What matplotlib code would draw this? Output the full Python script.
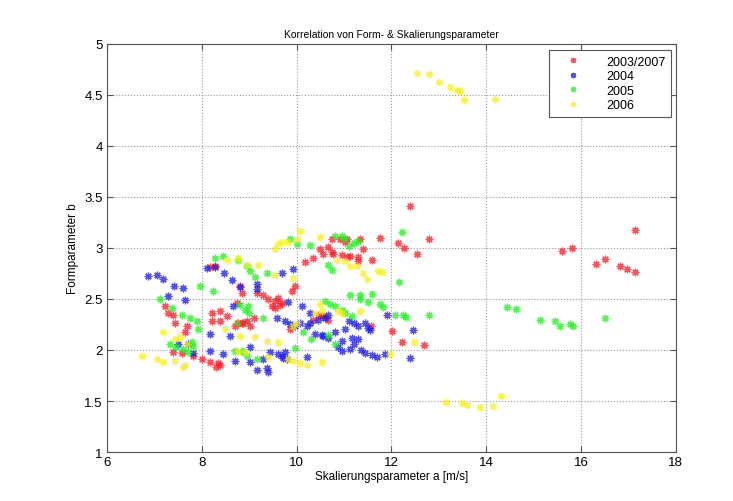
import matplotlib
matplotlib.use('Agg')
import matplotlib.pyplot as plt

# values
red_x = [7.22, 7.29, 7.39, 7.43, 7.69, 7.65, 7.39, 7.58, 7.81, 8.0, 8.17, 8.34, 8.38, 8.3,
         8.22, 8.38, 8.22, 8.38, 8.53, 8.85, 8.70, 8.76, 8.87, 8.95, 9.02, 8.81, 8.28, 8.17,
         9.4, 9.54, 9.48, 9.6, 9.7, 9.86, 9.97, 9.16, 8.85, 8.75, 9.3, 9.55, 9.65, 9.1, 9.9,
         10.54, 10.56, 10.45, 10.35, 10.66, 10.49, 10.66, 10.75, 10.56, 10.77, 10.96, 11.13,
         10.35, 10.18, 10.75, 10.92, 11.02, 11.06, 11.4, 11.06, 11.3, 11.3, 11.59, 11.34,
         11.76, 12.14, 12.27, 12.39, 12.8, 12.54, 11.57, 12.01, 12.22, 12.69,
         15.6, 15.81, 17.14, 16.32, 16.51, 16.82, 16.97, 17.14]
red_y = [2.43, 2.36, 2.34, 2.26, 2.24, 2.18, 1.98, 1.97, 1.94, 1.91, 1.88, 1.87, 1.85, 1.83,
         2.36, 2.38, 2.28, 2.28, 2.33, 2.26, 2.24, 2.26, 2.26, 2.28, 2.24, 2.63, 2.82, 2.81,
         2.50, 2.48, 2.43, 2.51, 2.46, 2.21, 2.63, 2.56, 2.56, 2.46, 2.54, 2.41, 2.44, 2.31, 2.58,
         2.33, 2.33, 2.34, 2.29, 2.29, 2.99, 3.01, 2.96, 2.94, 2.94, 2.93, 2.92,
         2.90, 2.86, 3.09, 3.09, 3.06, 3.09, 2.99, 2.91, 2.91, 2.87, 2.88, 3.09,
         3.10, 3.05, 3.00, 3.41, 3.09, 2.94, 2.24, 2.19, 2.08, 2.05,
         2.97, 3.00, 3.18, 2.84, 2.89, 2.82, 2.79, 2.76]

blue_x = [6.86, 7.05, 7.18, 7.41, 7.6, 7.29, 7.65, 8.11, 8.28, 8.47, 8.64, 8.66, 8.17, 8.59,
          7.5, 7.71, 7.81, 8.17, 8.45, 8.7, 9.69, 9.92, 9.16, 8.81, 9.16, 9.82, 10.11, 10.28,
          9.59, 9.76, 9.86, 9.97, 10.07, 10.22, 10.28, 10.45, 10.6, 10.66, 10.39, 10.54, 10.56,
          10.66, 10.81, 11.02, 10.96, 11.17, 11.13, 10.87, 10.96, 9.02, 9.44, 9.61, 9.76, 9.69,
          9.71, 9.8, 9.02, 9.29, 10.22, 9.16, 9.38, 9.4, 11.2, 11.3, 11.45, 11.5, 11.55, 11.1,
          11.35, 11.45, 11.6, 11.7, 11.86, 11.91, 12.46, 12.39, 11.3, 11.2]
blue_y = [2.73, 2.74, 2.70, 2.63, 2.61, 2.53, 2.49, 2.80, 2.81, 2.75, 2.69, 2.43, 2.16, 2.14,
          2.06, 2.06, 1.97, 1.99, 1.96, 1.89, 2.75, 2.79, 2.65, 2.62, 2.60, 2.47, 2.43, 2.36,
          2.31, 2.28, 2.25, 2.24, 2.26, 2.24, 2.26, 2.29, 2.31, 2.34, 2.16, 2.15, 2.14,
          2.12, 2.18, 2.21, 2.09, 2.12, 2.01, 2.03, 1.99, 2.03, 1.98, 1.96, 1.98, 1.94,
          1.92, 1.91, 1.88, 1.91, 1.93, 1.80, 1.82, 1.78, 2.26, 2.24, 2.26, 2.22, 2.20, 2.28,
          2.00, 1.97, 1.95, 1.93, 1.96, 2.34, 2.20, 1.92, 2.11, 2.06]

green_x = [7.12, 7.37, 7.58, 7.75, 7.9, 7.92, 7.96, 8.24, 8.28, 8.45, 8.81, 8.74, 7.33, 7.79,
           7.81, 7.71, 7.45, 7.6, 8.87, 8.76, 8.95, 9.02, 9.12, 9.38, 8.97, 8.91, 9.0, 9.29,
           8.7, 8.85, 8.95, 9.16, 9.97, 10.14, 10.66, 10.6, 10.7, 10.81, 10.96, 11.02, 11.17,
           9.86, 10.0, 10.28, 10.81, 10.96, 11.02, 11.1, 11.2, 11.3, 10.66, 10.75, 12.22, 12.16,
           11.13, 11.34, 11.34, 11.59, 11.5, 11.76, 11.82, 12.08, 12.24, 12.31, 12.8,
           14.44, 14.63, 15.14, 15.45, 15.56, 15.77, 15.83, 16.51, 10.3, 10.8]
green_y = [2.50, 2.41, 2.34, 2.31, 2.28, 2.21, 2.63, 2.58, 2.90, 2.92, 2.44, 2.26, 2.06, 2.08,
           2.04, 1.98, 2.03, 2.01, 1.98, 2.88, 2.82, 2.77, 2.72, 2.75, 2.43, 2.39, 2.36, 2.31,
           1.99, 1.99, 1.94, 1.91, 2.02, 2.18, 2.15, 2.48, 2.45, 2.43, 2.39, 2.36, 2.33,
           3.09, 3.04, 3.03, 3.12, 3.12, 3.09, 3.02, 3.05, 3.07, 2.83, 2.78, 3.16, 2.67,
           2.54, 2.54, 2.50, 2.55, 2.47, 2.45, 2.42, 2.34, 2.34, 2.32, 2.34,
           2.42, 2.40, 2.29, 2.28, 2.24, 2.25, 2.24, 2.31, 2.11, 2.06]

yellow_x = [6.74, 7.05, 7.18, 7.43, 7.65, 7.6, 7.43, 7.54, 7.69, 7.18, 8.49, 8.53, 8.76, 8.95,
            9.19, 9.54, 9.92, 8.81, 9.12, 9.38, 9.61, 8.76, 8.91, 9.4, 9.82, 9.92, 10.07, 10.22,
            10.54, 10.0, 9.92, 10.39, 10.54, 10.49, 10.87, 10.96, 11.34, 10.07, 10.0, 9.6, 9.69,
            9.82, 9.54, 10.49, 10.85, 11.02, 11.13, 11.27, 11.4, 11.49, 11.72, 11.8, 12.48, 11.97,
            13.15, 13.49, 13.59, 13.87, 14.14, 14.31,
            12.55, 12.79, 13.0, 13.24, 13.38, 13.44, 13.54, 14.18]
yellow_y = [1.94, 1.91, 1.88, 1.89, 1.85, 1.83, 2.11, 2.13, 2.06, 2.18, 2.21, 2.88, 2.90, 2.83,
            2.83, 2.74, 2.71, 2.14, 2.13, 2.09, 2.08, 1.99, 1.98, 1.93, 1.91, 1.89, 1.87, 1.85,
            1.88, 2.26, 2.24, 2.36, 2.38, 2.45, 2.38, 2.36, 2.38, 3.17, 3.09, 3.04, 3.06,
            3.06, 2.99, 3.11, 2.88, 2.87, 2.82, 2.82, 2.75, 2.70, 2.77, 2.76, 2.08, 1.96,
            1.49, 1.48, 1.46, 1.44, 1.45, 1.55,
            4.72, 4.71, 4.63, 4.58, 4.55, 4.54, 4.45, 4.46]

labels = ['2003/2007', '2004', '2005', '2006']
colors = ['#f51d2a', '#1a1ae6', '#22ee22', '#f5f020']
xticks = [6, 8, 10, 12, 14, 16, 18]
yticks = [1, 1.5, 2, 2.5, 3, 3.5, 4, 4.5, 5]

plt.rcParams['font.family'] = ['Liberation Sans', 'DejaVu Sans']

fig = plt.figure(figsize=(7.33, 5.02), dpi=100)
ax = fig.add_axes([0.146, 0.0976, 0.776, 0.8128])

series = [(red_x, red_y), (blue_x, blue_y), (green_x, green_y), (yellow_x, yellow_y)]
for (xs, ys), lab, col in zip(series, labels, colors):
    ax.plot(xs, ys, linestyle='none', marker=(8, 2, 0), markersize=5.5,
            markeredgewidth=0.9, color=col, alpha=0.75, label=lab)

ax.set_xlim(6, 18)
ax.set_ylim(1, 5)
ax.set_xticks(xticks)
ax.set_yticks(yticks)
ax.set_yticklabels(['1', '1.5', '2', '2.5', '3', '3.5', '4', '4.5', '5'])
ax.tick_params(direction='in', top=True, right=True, labelsize=9.5, length=4,
               color='#555555', pad=3)
ax.grid(True, linestyle=':', color='#999999', linewidth=0.8)
for s in ax.spines.values():
    s.set_color('#555555')

ax.set_title('Korrelation von Form- & Skalierungsparameter', fontsize=7.5, pad=5)
ax.set_xlabel('Skalierungsparameter a [m/s]', fontsize=8.5, labelpad=1)
ax.set_ylabel('Formparameter b', fontsize=8.5, labelpad=4)

leg = ax.legend(loc='upper right', fontsize=9, fancybox=False, framealpha=1,
                edgecolor='#555555', handlelength=2.8, handletextpad=1.3,
                borderpad=0.45, labelspacing=0.2, markerscale=0.7,
                bbox_to_anchor=(1.003, 1.0))
leg.get_frame().set_linewidth(0.8)

fig.savefig('out.png', dpi=100)
